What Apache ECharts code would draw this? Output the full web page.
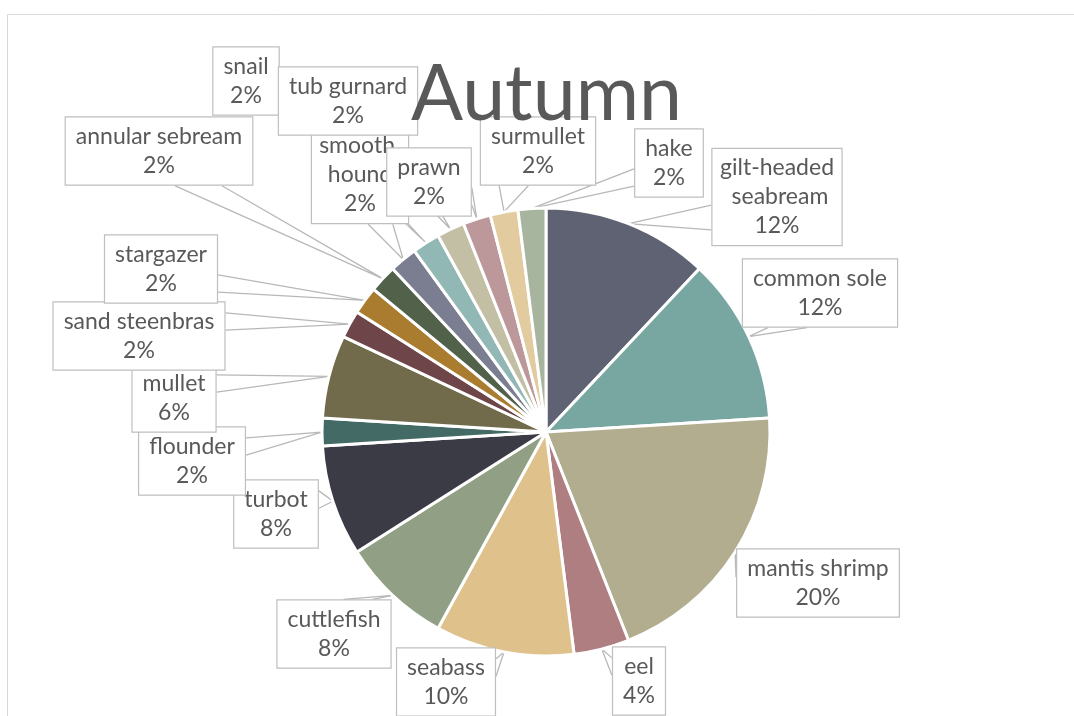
<!DOCTYPE html>
<html>
<head>
<meta charset="utf-8">
<script src="https://cdn.jsdelivr.net/npm/echarts@6/dist/echarts.min.js"></script>
<style>
  html, body { margin: 0; padding: 0; background: #ffffff; }
  #chart { width: 1074px; height: 716px; }
</style>
</head>
<body>
<div id="chart"></div>
<script>
// Autumn catch, clockwise from twelve o'clock
const species = [
  'gilt-headed seabream', 'common sole', 'mantis shrimp', 'eel', 'seabass',
  'cuttlefish', 'turbot', 'flounder', 'mullet', 'sand steenbras', 'stargazer',
  'annular sebream', 'smooth hound', 'snail', 'tub gurnard', 'prawn',
  'surmullet', 'hake'
];
const counts = [6, 6, 10, 2, 5, 4, 4, 1, 3, 1, 1, 1, 1, 1, 1, 1, 1, 1];

const sliceColors = [
  '#5f6273', '#78a7a2', '#b1ad8e', '#ae7e80', '#dfc18c',
  '#919f84', '#3b3b46', '#436a65', '#716b4c', '#6e4548', '#a97c2f',
  '#52614a', '#7b7d90', '#92b8b5', '#c2bfa5', '#bd989b',
  '#e3cba0', '#a8b59e'
];

// Centre of each callout box (px)
const calloutCentres = [
  [777, 197], [820, 293], [818, 583], [639, 681], [446, 682],
  [334, 634], [276, 514], [192, 461], [174, 398], [139, 336], [161, 269],
  [159, 151], [360, 175], [246, 81], [348, 101], [429, 182],
  [538, 151], [669, 163]
];
// Text width for callouts whose name wraps onto two lines
const wrapWidths = { 0: 117, 12: 84 };

// Pointer of a rectangular callout: two sides running from the box edge
// to the tip, placed on the side facing the tip (7/12–10/12 or 2/12–5/12).
function calloutPointer(box, tip) {
  const hc = box.l + box.w / 2, vc = box.t + box.h / 2;
  const dx = tip[0] - hc, dy = tip[1] - vc;
  const dq = dx * box.h / box.w;
  const horizontal = Math.abs(dq) - Math.abs(dy) > 0;
  if (horizontal) {
    const y1 = box.t + box.h * (dy > 0 ? 7 : 2) / 12;
    const y2 = box.t + box.h * (dy > 0 ? 10 : 5) / 12;
    const x = dx > 0 ? box.l + box.w : box.l;
    return [[x, y1], tip, [x, y2]];
  }
  const x1 = box.l + box.w * (dx > 0 ? 7 : 2) / 12;
  const x2 = box.l + box.w * (dx > 0 ? 10 : 5) / 12;
  const y = dy > 0 ? box.t + box.h : box.t;
  return [[x1, y], tip, [x2, y]];
}

const pieData = species.map(function (name, i) {
  const item = { name: name, value: counts[i], itemStyle: { color: sliceColors[i] } };
  if (wrapWidths[i]) {
    item.label = { width: wrapWidths[i], overflow: 'break', padding: [5, 6, 4, 6] };
  }
  return item;
});

const chart = echarts.init(document.getElementById('chart'), null, { renderer: 'canvas' });

chart.setOption({
  backgroundColor: '#ffffff',
  animation: false,
  title: {
    text: 'Autumn',
    left: 406,
    top: 52,
    textStyle: {
      fontFamily: 'Lato',
      fontSize: 77,
      fontWeight: 'normal',
      color: '#595959'
    }
  },
  graphic: [{
    type: 'rect',
    silent: true,
    z: -10,
    shape: { x: 7.5, y: 14.5, width: 1200, height: 800 },
    style: { fill: 'none', stroke: '#d9d9d9', lineWidth: 1 }
  }],
  series: [{
    type: 'pie',
    center: [546, 432],
    radius: 224,
    startAngle: 90,
    clockwise: true,
    avoidLabelOverlap: false,
    percentPrecision: 0,
    itemStyle: { borderColor: '#ffffff', borderWidth: 3 },
    label: {
      show: true,
      position: 'outside',
      formatter: '{b}\n{d}%',
      fontFamily: 'Lato',
      fontSize: 23,
      lineHeight: 29,
      color: '#595959',
      align: 'center',
      backgroundColor: '#ffffff',
      borderColor: '#bfbfbf',
      borderWidth: 1.2,
      padding: [5, 10, 4, 10]
    },
    labelLine: {
      show: true,
      length: 10,
      length2: 10,
      lineStyle: { color: '#b8b8b8', width: 1.3 }
    },
    labelLayout: function (p) {
      const c = calloutCentres[p.dataIndex];
      const w = p.labelRect.width, h = p.labelRect.height;
      const box = { l: c[0] - w / 2, t: c[1] - h / 2, w: w, h: h };
      const out = { x: c[0], y: c[1], align: 'center', verticalAlign: 'middle', hideOverlap: false, moveOverlap: null };
      if (p.labelLinePoints && p.labelLinePoints[0]) {
        out.labelLinePoints = calloutPointer(box, p.labelLinePoints[0].slice());
      }
      return out;
    },
    emphasis: { disabled: true },
    data: pieData
  }]
});
</script>
</body>
</html>
